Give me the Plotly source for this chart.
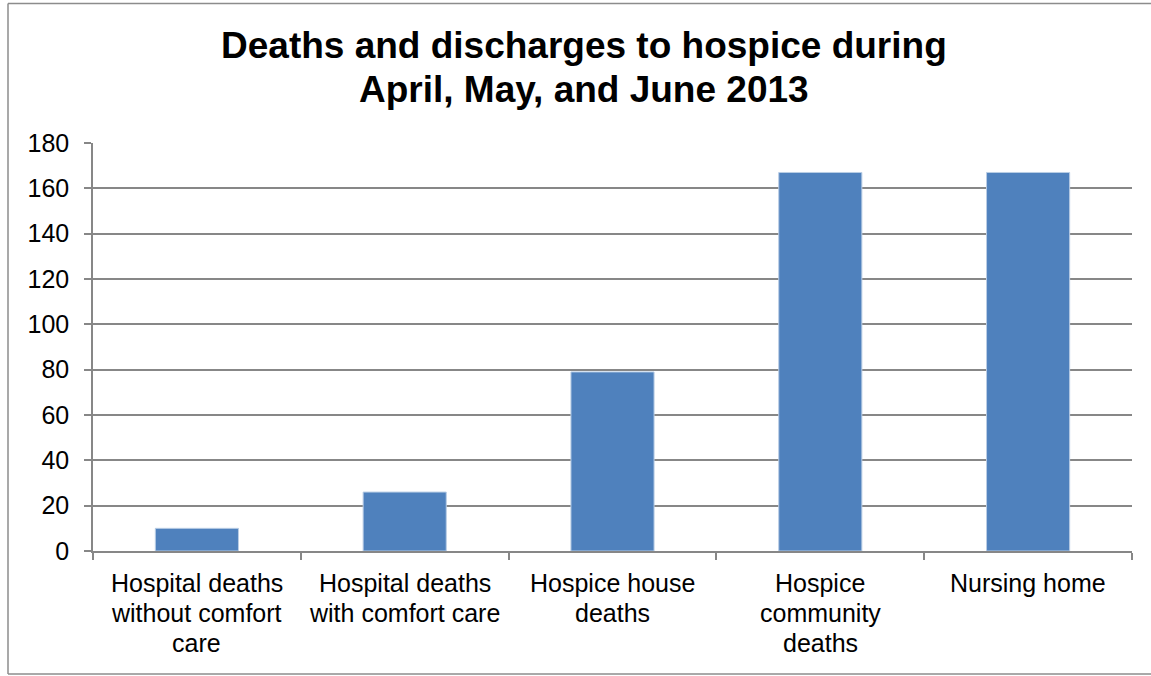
import plotly.graph_objects as go

categories = [
    "Hospital deaths<br>without comfort<br>care",
    "Hospital deaths<br>with comfort care",
    "Hospice house<br>deaths",
    "Hospice<br>community<br>deaths",
    "Nursing home",
]
values = [10, 26, 79, 167, 167]
title_lines = ["Deaths and discharges to hospice during", "April, May, and June 2013"]

W, H = 1151, 676
L, R, T, B = 93, 19, 143, 125
PW, PH = W - L - R, H - T - B
FONT = "Liberation Sans, Arial, sans-serif"
GRID = "#878787"
BORDER = "#8C8C8C"

def px_x(x):
    return (x - L) / PW

def px_y(y):
    return (H - B - y) / PH

fig = go.Figure()
fig.add_trace(go.Bar(
    x=categories, y=values,
    marker=dict(color="#4F81BD", line=dict(color="#B9CDE5", width=1)),
    hoverinfo="x+y",
))

annotations = []
for i, line in enumerate(title_lines):
    annotations.append(dict(
        text="<b>%s</b>" % line, xref="paper", yref="paper",
        x=px_x(584), y=px_y(46 + 43 * i), xanchor="center", yanchor="middle",
        showarrow=False, font=dict(family=FONT, size=37, color="#000000"),
    ))
for cat in categories:
    for j, line in enumerate(cat.split("<br>")):
        annotations.append(dict(
            text=line, x=cat, xref="x", yref="paper", y=0,
            xanchor="center", yanchor="middle", yshift=-(32 + 30 * j),
            showarrow=False, font=dict(family=FONT, size=25, color="#000000"),
        ))

border = dict(xref="paper", yref="paper", type="line",
              line=dict(color=BORDER, width=1.5), layer="below")
shapes = [
    dict(border, x0=px_x(8), x1=px_x(8), y0=px_y(674), y1=px_y(3.5)),
    dict(border, x0=px_x(8), x1=px_x(1151), y0=px_y(3.5), y1=px_y(3.5)),
    dict(border, x0=px_x(8), x1=px_x(1151), y0=px_y(674), y1=px_y(674)),
]

fig.update_layout(
    width=W, height=H,
    margin=dict(l=L, r=R, t=T, b=B, pad=0),
    paper_bgcolor="white", plot_bgcolor="white",
    showlegend=False, bargap=0.6,
    font=dict(family=FONT, size=25, color="#000000"),
    annotations=annotations,
    shapes=shapes,
    xaxis=dict(
        type="category", showticklabels=False, tickson="boundaries",
        ticks="outside", ticklen=7, tickcolor=GRID, tickwidth=1.5,
        showline=True, linecolor=GRID, linewidth=1.5, showgrid=False,
        zeroline=False, fixedrange=True,
    ),
    yaxis=dict(
        range=[0, 180], dtick=20, tick0=0,
        ticks="outside", ticklen=7, tickcolor=GRID, tickwidth=1.5,
        showline=True, linecolor=GRID, linewidth=1.5,
        showgrid=True, gridcolor=GRID, gridwidth=1.5, zeroline=False,
        ticklabelstandoff=10,
        tickfont=dict(family=FONT, size=25, color="#000000"),
        fixedrange=True,
    ),
)

fig.write_html("out.html")
